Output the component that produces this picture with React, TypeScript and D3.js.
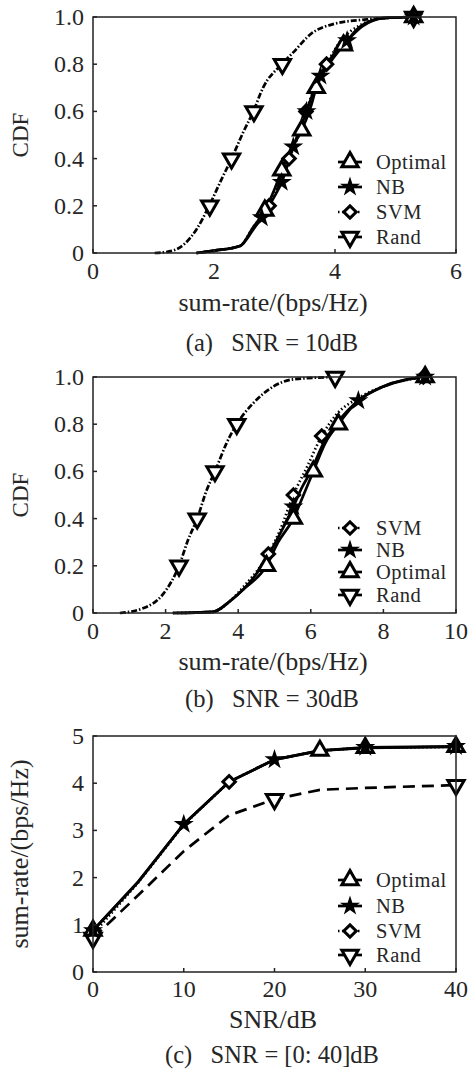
import React from "react";
import * as d3 from "d3";

// ---------- Data ----------
// Panel (a) SNR = 10dB : CDF curves (x = sum-rate, y = CDF)
const aRandX = [1.02, 1.32, 1.71, 1.92, 2.12, 2.29, 2.48, 2.65, 2.81, 3.12, 3.31, 3.61, 3.97, 4.53, 5.3];
const aRandY = [0, 0.01, 0.1, 0.2, 0.31, 0.4, 0.51, 0.6, 0.7, 0.8, 0.85, 0.93, 0.97, 0.99, 1.0];
const aOptX = [1.71, 2.0, 2.43, 2.65, 2.84, 3.0, 3.12, 3.3, 3.45, 3.6, 3.69, 3.9, 4.14, 4.42, 4.8, 5.3];
const aOptY = [0, 0.01, 0.03, 0.11, 0.18, 0.27, 0.35, 0.45, 0.52, 0.62, 0.7, 0.8, 0.88, 0.96, 0.995, 1.0];
const aNBX = [1.71, 2.0, 2.43, 2.65, 2.79, 3.0, 3.12, 3.31, 3.53, 3.64, 3.76, 4.0, 4.2, 4.45, 4.8, 5.3];
const aNBY = [0, 0.01, 0.03, 0.1, 0.15, 0.24, 0.3, 0.45, 0.6, 0.68, 0.75, 0.85, 0.9, 0.96, 0.995, 1.0];
const aSVMX = [1.71, 2.0, 2.43, 2.65, 2.91, 3.08, 3.24, 3.4, 3.52, 3.7, 3.86, 4.1, 4.45, 4.8, 5.3];
const aSVMY = [0, 0.01, 0.03, 0.11, 0.2, 0.3, 0.4, 0.5, 0.6, 0.72, 0.8, 0.9, 0.97, 0.995, 1.0];
const aOptMkX = [2.84, 3.12, 3.45, 3.69, 4.14, 5.3];
const aOptMkY = [0.18, 0.35, 0.52, 0.7, 0.88, 1.0];
const aNBMkX = [2.79, 3.12, 3.31, 3.53, 3.76, 4.2, 5.3];
const aNBMkY = [0.15, 0.3, 0.45, 0.6, 0.75, 0.9, 1.0];
const aSVMMkX = [2.91, 3.24, 3.52, 3.86, 5.3];
const aSVMMkY = [0.2, 0.4, 0.6, 0.8, 1.0];
const aRandMkX = [1.93, 2.29, 2.66, 3.13, 5.3];
const aRandMkY = [0.2, 0.4, 0.6, 0.8, 1.0];

// Panel (b) SNR = 30dB
const bRandX = [0.74, 1.38, 1.93, 2.37, 2.62, 2.87, 3.13, 3.36, 3.68, 3.96, 4.42, 4.97, 5.52, 6.67];
const bRandY = [0, 0.02, 0.08, 0.2, 0.31, 0.4, 0.52, 0.6, 0.72, 0.8, 0.89, 0.96, 0.99, 1.0];
const bOptX = [2.2, 3.31, 3.77, 4.14, 4.78, 5.1, 5.52, 5.8, 6.07, 6.4, 6.76, 7.31, 8.0, 9.15];
const bOptY = [0, 0.005, 0.05, 0.1, 0.2, 0.3, 0.4, 0.5, 0.6, 0.72, 0.8, 0.9, 0.96, 1.0];
const bNBX = [2.2, 3.31, 3.77, 4.14, 4.7, 5.1, 5.52, 5.75, 6.0, 6.35, 6.75, 7.31, 8.0, 9.15];
const bNBY = [0, 0.005, 0.05, 0.1, 0.21, 0.32, 0.45, 0.53, 0.6, 0.72, 0.81, 0.9, 0.96, 1.0];
const bSVMX = [2.2, 3.31, 3.77, 4.14, 4.83, 5.15, 5.52, 5.9, 6.3, 6.7, 7.3, 8.0, 9.1];
const bSVMY = [0, 0.005, 0.05, 0.11, 0.25, 0.35, 0.5, 0.62, 0.75, 0.84, 0.91, 0.96, 1.0];
const bOptMkX = [4.78, 5.52, 6.07, 6.76, 9.15];
const bOptMkY = [0.2, 0.4, 0.6, 0.8, 1.0];
const bNBMkX = [5.52, 7.31, 9.15];
const bNBMkY = [0.45, 0.9, 1.0];
const bSVMMkX = [4.83, 5.52, 6.3, 9.1];
const bSVMMkY = [0.25, 0.5, 0.75, 1.0];
const bRandMkX = [2.37, 2.87, 3.36, 3.96, 6.67];
const bRandMkY = [0.2, 0.4, 0.6, 0.8, 1.0];

// Panel (c) SNR = [0:40]dB : sum-rate vs SNR
const cSNR = [0, 5, 10, 15, 20, 25, 30, 40];
const cOpt = [0.88, 1.91, 3.13, 4.03, 4.5, 4.69, 4.75, 4.77];
const cNB = [0.88, 1.92, 3.13, 4.03, 4.5, 4.69, 4.76, 4.78];
const cSVM = [0.8, 1.9, 3.12, 4.03, 4.5, 4.69, 4.75, 4.77];
const cRand = [0.72, 1.63, 2.56, 3.32, 3.66, 3.86, 3.9, 3.96];
const cOptMk = [0, 25, 30, 40];
const cNBMk = [0, 10, 20, 30, 40];
const cSVMMk = [0, 15];
const cRandMk = [0, 20, 40];

// Tick labels
const aXTicks = [0, 2, 4, 6];
const bXTicks = [0, 2, 4, 6, 8, 10];
const cdfTicks = [0, 0.2, 0.4, 0.6, 0.8, 1.0];
const cXTicks = [0, 10, 20, 30, 40];
const cYTicks = [0, 1, 2, 3, 4, 5];

const legendA = ["Optimal", "NB", "SVM", "Rand"];
const legendB = ["SVM", "NB", "Optimal", "Rand"];
const legendC = ["Optimal", "NB", "SVM", "Rand"];

// ---------- Styles ----------
const FONT = "'Liberation Serif', 'Times New Roman', serif";
const TXT = "#262626";
const seriesStyle: Record<string, { dash: string; marker: string }> = {
  Optimal: { dash: "none", marker: "tri" },
  NB: { dash: "none", marker: "star" },
  SVM: { dash: "1.5 2.5", marker: "diamond" },
  Rand: { dash: "6 2 1.5 2", marker: "tridown" },
};

const L = 93, R = 456;

function Marker({ kind, x, y }: { kind: string; x: number; y: number }) {
  if (kind === "star") {
    const p = d3.symbol().type(d3.symbolStar).size(125)()!;
    return <path d={p} transform={`translate(${x},${y})`} fill="#000" />;
  }
  if (kind === "tri") {
    const p = d3.symbol().type(d3.symbolTriangle).size(115)()!;
    return <path d={p} transform={`translate(${x},${y})`} fill="#fff" stroke="#000" strokeWidth={3} />;
  }
  if (kind === "tridown") {
    const p = d3.symbol().type(d3.symbolTriangle).size(115)()!;
    return <path d={p} transform={`translate(${x},${y}) rotate(180)`} fill="#fff" stroke="#000" strokeWidth={3} />;
  }
  const p = d3.symbol().type(d3.symbolSquare).size(78)()!;
  return <path d={p} transform={`translate(${x},${y}) rotate(45)`} fill="#fff" stroke="#000" strokeWidth={3} />;
}

type Series = { name: string; xs: number[]; ys: number[]; mx: number[]; my: number[]; dash?: string };

function Panel(props: {
  top: number; bottom: number; xDomain: [number, number]; yDomain: [number, number];
  xTicks: number[]; yTicks: number[]; yFmt: (v: number) => string;
  series: Series[]; curve: d3.CurveFactory; legend: string[]; legendYs: number[];
  yLabel: string; yLabelSize: number; xLabel: string; caption: string;
  tickBase: number; xLabelBase: number; captionBase: number;
}) {
  const x = d3.scaleLinear().domain(props.xDomain).range([L, R]);
  const y = d3.scaleLinear().domain(props.yDomain).range([props.bottom, props.top]);
  const line = d3.line<[number, number]>().x((d) => x(d[0])).y((d) => y(d[1])).curve(props.curve);
  const midY = (props.top + props.bottom) / 2;
  const ordered = ["SVM", "Rand", "Optimal", "NB"];
  const sorted = [...props.series].sort((a, b) => ordered.indexOf(a.name) - ordered.indexOf(b.name));
  return (
    <g>
      {sorted.map((s) => (
        <path key={s.name} d={line(s.xs.map((v, i) => [v, s.ys[i]] as [number, number]))!}
          fill="none" stroke="#000" strokeWidth={2.7}
          strokeDasharray={s.dash ?? seriesStyle[s.name].dash} />
      ))}
      {sorted.map((s) => s.mx.map((v, i) => (
        <Marker key={s.name + i} kind={seriesStyle[s.name].marker} x={x(v)} y={y(s.my[i])} />
      )))}
      <rect x={L} y={props.top} width={R - L} height={props.bottom - props.top} fill="none" stroke="#222" strokeWidth={1.5} />
      {props.xTicks.map((t) => (
        <g key={"xt" + t}>
          <line x1={x(t)} x2={x(t)} y1={props.bottom} y2={props.bottom - 4} stroke="#222" strokeWidth={1.5} />
          <text x={x(t)} y={props.tickBase} textAnchor="middle" fontSize={24} fontFamily={FONT} fill={TXT}>{t}</text>
        </g>
      ))}
      {props.yTicks.map((t) => (
        <g key={"yt" + t}>
          <line x1={L} x2={L + 4} y1={y(t)} y2={y(t)} stroke="#222" strokeWidth={1.5} />
          <text x={84} y={y(t) + 8} textAnchor="end" fontSize={24} fontFamily={FONT} fill={TXT}>{props.yFmt(t)}</text>
        </g>
      ))}
      <text transform={`translate(28,${midY}) rotate(-90)`} textAnchor="middle" fontSize={props.yLabelSize} fontFamily={FONT} fill={TXT}>{props.yLabel}</text>
      <text x={273} y={props.xLabelBase} textAnchor="middle" fontSize={26} fontFamily={FONT} fill={TXT}>{props.xLabel}</text>
      <text x={272} y={props.captionBase} textAnchor="middle" fontSize={24.5} fontFamily={FONT} fill={TXT} style={{ whiteSpace: "pre" }}>{props.caption}</text>
      {props.legend.map((n, i) => (
        <g key={"lg" + n}>
          <line x1={338} x2={362} y1={props.legendYs[i]} y2={props.legendYs[i]} stroke="#000" strokeWidth={2.7}
            strokeDasharray={n === "SVM" ? "1.5 2.5" : "none"} />
          <Marker kind={seriesStyle[n].marker} x={350} y={props.legendYs[i]} />
          <text x={376} y={props.legendYs[i] + 7} fontSize={20.5} fontFamily={FONT} fill={TXT} letterSpacing={0.5}>{n}</text>
        </g>
      ))}
    </g>
  );
}

export default function App() {
  const cdfFmt = (v: number) => (v === 0 ? "0" : d3.format(".1f")(v));
  const intFmt = (v: number) => String(v);
  return (
    <svg width={472} height={1070} style={{ position: "absolute", left: 0, top: 0, display: "block", background: "#fff" }}>
      <Panel top={17} bottom={253} xDomain={[0, 6]} yDomain={[0, 1]} xTicks={aXTicks} yTicks={cdfTicks} yFmt={cdfFmt}
        series={[
          { name: "Rand", xs: aRandX, ys: aRandY, mx: aRandMkX, my: aRandMkY },
          { name: "Optimal", xs: aOptX, ys: aOptY, mx: aOptMkX, my: aOptMkY },
          { name: "NB", xs: aNBX, ys: aNBY, mx: aNBMkX, my: aNBMkY },
          { name: "SVM", xs: aSVMX, ys: aSVMY, mx: aSVMMkX, my: aSVMMkY },
        ]}
        curve={d3.curveMonotoneX} legend={legendA} legendYs={[162, 187, 212, 237]}
        yLabel="CDF" yLabelSize={23} xLabel="sum-rate/(bps/Hz)" caption={"(a)   SNR = 10dB"}
        tickBase={279} xLabelBase={311} captionBase={351} />
      <Panel top={377} bottom={613} xDomain={[0, 10]} yDomain={[0, 1]} xTicks={bXTicks} yTicks={cdfTicks} yFmt={cdfFmt}
        series={[
          { name: "Rand", xs: bRandX, ys: bRandY, mx: bRandMkX, my: bRandMkY },
          { name: "Optimal", xs: bOptX, ys: bOptY, mx: bOptMkX, my: bOptMkY },
          { name: "NB", xs: bNBX, ys: bNBY, mx: bNBMkX, my: bNBMkY },
          { name: "SVM", xs: bSVMX, ys: bSVMY, mx: bSVMMkX, my: bSVMMkY },
        ]}
        curve={d3.curveMonotoneX} legend={legendB} legendYs={[528, 550, 572, 595]}
        yLabel="CDF" yLabelSize={23} xLabel="sum-rate/(bps/Hz)" caption={"(b)   SNR = 30dB"}
        tickBase={639} xLabelBase={670} captionBase={707} />
      <Panel top={736} bottom={972} xDomain={[0, 40]} yDomain={[0, 5]} xTicks={cXTicks} yTicks={cYTicks} yFmt={intFmt}
        series={[
          { name: "Rand", xs: cSNR, ys: cRand, mx: cRandMk, my: cRandMk.map((s) => cRand[cSNR.indexOf(s)]), dash: "12 7" },
          { name: "Optimal", xs: cSNR, ys: cOpt, mx: cOptMk, my: cOptMk.map((s) => cOpt[cSNR.indexOf(s)]) },
          { name: "NB", xs: cSNR, ys: cNB, mx: cNBMk, my: cNBMk.map((s) => cNB[cSNR.indexOf(s)]) },
          { name: "SVM", xs: cSNR, ys: cSVM, mx: cSVMMk, my: cSVMMk.map((s) => cSVM[cSNR.indexOf(s)]) },
        ]}
        curve={d3.curveLinear} legend={legendC} legendYs={[880, 906, 931, 955]}
        yLabel="sum-rate/(bps/Hz)" yLabelSize={26} xLabel="SNR/dB" caption={"(c)   SNR = [0: 40]dB"}
        tickBase={997} xLabelBase={1028} captionBase={1063} />
    </svg>
  );
}
